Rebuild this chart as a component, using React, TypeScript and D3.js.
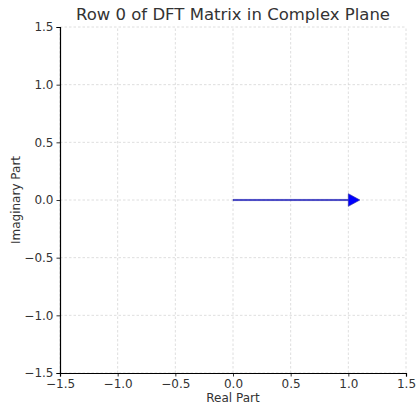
import React, { useEffect, useRef } from 'react'
import * as d3 from 'd3'

const xTicks = [-1.5, -1.0, -0.5, 0.0, 0.5, 1.0, 1.5]
const yTicks = [-1.5, -1.0, -0.5, 0.0, 0.5, 1.0, 1.5]
// row 0 of the DFT matrix: all entries equal 1 + 0i
const arrowsRe = [1.0]
const arrowsIm = [0.0]

const App = () => {
  const svgRef = useRef<SVGSVGElement>(null)

  useEffect(() => {
    const width = 418
    const height = 406
    const m = { left: 60, right: 12, top: 27, bottom: 33 }

    const svg = d3.select(svgRef.current)
    svg.selectAll('*').remove()
    svg.attr('width', width).attr('height', height)
      .style('font-family', 'DejaVu Sans, sans-serif')

    const x = d3.scaleLinear().domain([-1.5, 1.5]).range([m.left, width - m.right])
    const y = d3.scaleLinear().domain([-1.5, 1.5]).range([height - m.bottom, m.top])

    // grid
    const grid = svg.append('g')
    grid.selectAll('line.gx').data(xTicks).join('line')
      .attr('x1', d => x(d)).attr('x2', d => x(d))
      .attr('y1', y(-1.5)).attr('y2', y(1.5))
    grid.selectAll('line.gy').data(yTicks).join('line')
      .attr('y1', d => y(d)).attr('y2', d => y(d))
      .attr('x1', x(-1.5)).attr('x2', x(1.5))
    grid.selectAll('line')
      .attr('stroke', '#d6d6d6').attr('stroke-width', 0.8)
      .attr('stroke-dasharray', '2.5,2')

    // arrows (matplotlib style: head appended beyond the tip)
    const headLen = 0.1
    const headW = 0.11
    const shaftW = 0.01
    const pts = arrowsRe.map((re, i) => ({ re, im: arrowsIm[i] }))
    svg.append('g').selectAll('path').data(pts).join('path')
      .attr('d', d => {
        const len = Math.hypot(d.re, d.im)
        const ux = d.re / len, uy = d.im / len
        const nx = -uy, ny = ux
        const p = (a: number, b: number) => `${x(a)},${y(b)}`
        const ex = d.re, ey = d.im
        return 'M' + [
          p(nx * shaftW / 2, ny * shaftW / 2),
          p(ex + nx * shaftW / 2, ey + ny * shaftW / 2),
          p(ex + nx * headW / 2, ey + ny * headW / 2),
          p(ex + ux * headLen, ey + uy * headLen),
          p(ex - nx * headW / 2, ey - ny * headW / 2),
          p(ex - nx * shaftW / 2, ey - ny * shaftW / 2),
          p(-nx * shaftW / 2, -ny * shaftW / 2),
        ].join('L') + 'Z'
      })
      .attr('fill', '#0000ff').attr('stroke', '#2a2a9a').attr('stroke-width', 0.6)

    // axes
    const xAxis = svg.append('g').attr('transform', `translate(0,${y(-1.5)})`)
      .call(d3.axisBottom(x).tickValues(xTicks).tickSize(3.5).tickPadding(3)
        .tickFormat(d => d3.format('.1f')(d as number).replace('-', '\u2212')))
    const yAxis = svg.append('g').attr('transform', `translate(${x(-1.5)},0)`)
      .call(d3.axisLeft(y).tickValues(yTicks).tickSize(3.5).tickPadding(3)
        .tickFormat(d => d3.format('.1f')(d as number).replace('-', '\u2212')))
    for (const a of [xAxis, yAxis]) {
      a.select('.domain').attr('stroke', '#000').attr('stroke-width', 1.2)
      a.selectAll('.tick line').attr('stroke', '#000').attr('stroke-width', 0.8)
      a.selectAll('.tick text').attr('fill', '#333').style('font-size', '12px')
        .style('font-family', 'DejaVu Sans, sans-serif')
    }

    svg.append('text').attr('x', (x(-1.5) + x(1.5)) / 2).attr('y', 20)
      .attr('text-anchor', 'middle').attr('fill', '#333').style('font-size', '16.5px')
      .text('Row 0 of DFT Matrix in Complex Plane')
    svg.append('text').attr('x', (x(-1.5) + x(1.5)) / 2).attr('y', 402)
      .attr('text-anchor', 'middle').attr('fill', '#333').style('font-size', '12px')
      .text('Real Part')
    svg.append('text')
      .attr('transform', `translate(20,${(y(-1.5) + y(1.5)) / 2}) rotate(-90)`)
      .attr('text-anchor', 'middle').attr('fill', '#333').style('font-size', '12px')
      .text('Imaginary Part')
  }, [])

  return <svg ref={svgRef} style={{ position: 'absolute', left: 0, top: 0 }}></svg>
}

export default App
